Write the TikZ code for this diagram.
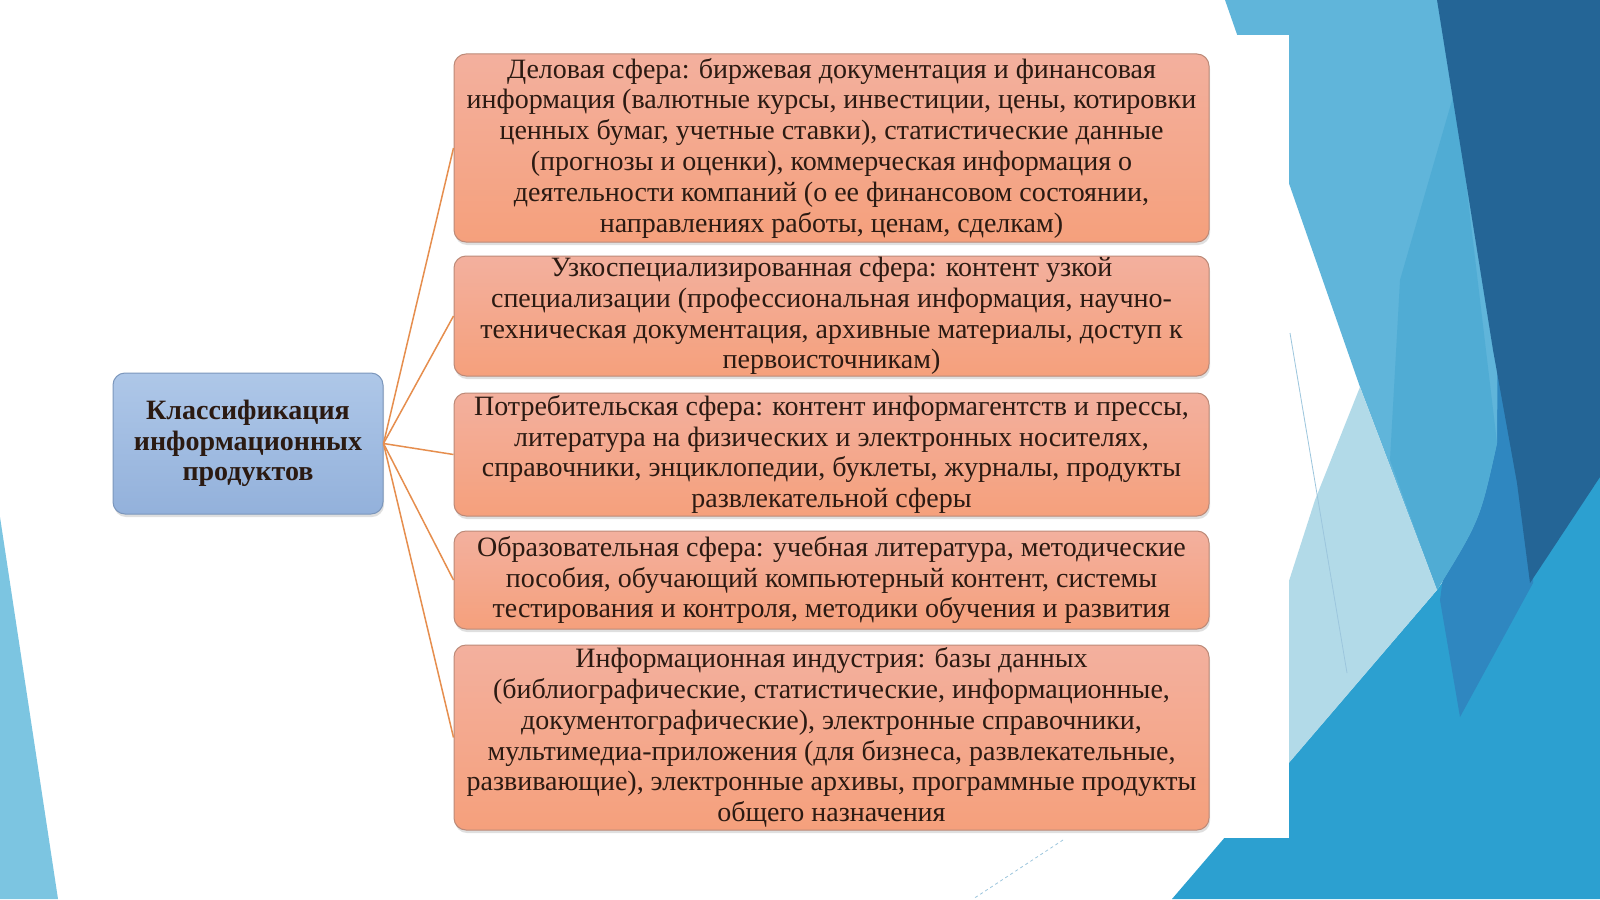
\documentclass[tikz,border=0pt]{standalone}
\usepackage{fontspec}
\setmainfont{Liberation Serif}
\usepackage{tikz}
\usetikzlibrary{shadows}
\definecolor{colorLink}{HTML}{E68E4E}
\definecolor{colorText}{HTML}{2B1A12}
\definecolor{colorBoxTop}{HTML}{F3B09E}
\definecolor{colorBoxBottom}{HTML}{F5A07C}
\definecolor{colorBoxLine}{HTML}{BC8A78}
\definecolor{colorRootTop}{HTML}{AEC7E8}
\definecolor{colorRootBottom}{HTML}{93B1DB}
\definecolor{colorRootLine}{HTML}{7C97BC}
\definecolor{colorBgMid}{HTML}{60B5DA}
\definecolor{colorBgMid2}{HTML}{50ACD4}
\definecolor{colorBgDark}{HTML}{246596}
\definecolor{colorBgStrip}{HTML}{2F87C0}
\definecolor{colorBgPale}{HTML}{B2DAE8}
\definecolor{colorBgLow}{HTML}{2CA0D0}
\definecolor{colorBgLeft}{HTML}{7CC5E1}
\definecolor{colorBgFaint}{HTML}{9CC6DD}
\tikzset{
  areabox/.style={draw=colorBoxLine, line width=1pt, rounded corners=12pt,
    top color=colorBoxTop, bottom color=colorBoxBottom, inner sep=0pt,
    minimum width=755pt, align=center,
    drop shadow={shadow xshift=1pt, shadow yshift=-3pt, opacity=0.25}},
  rootbox/.style={draw=colorRootLine, line width=1pt, rounded corners=12pt,
    top color=colorRootTop, bottom color=colorRootBottom, inner sep=0pt,
    minimum width=270pt, minimum height=141pt, align=center,
    font=\fontsize{28}{30.5}\selectfont\bfseries,
    drop shadow={shadow xshift=1pt, shadow yshift=-3pt, opacity=0.25}},
  link/.style={colorLink, line width=1.5pt}
}
\begin{document}
\begin{tikzpicture}[x=1pt, y=-1pt, every node/.style={text=colorText, font=\fontsize{28}{30.8}\selectfont}]
\useasboundingbox (0,0) rectangle (1600,899);
% background of the slide
\fill[white] (0,0) rectangle (1600,899);
\fill[colorBgLeft] (0,517) -- (58,899) -- (0,899) -- cycle;
\fill[colorBgLow] (1172,899) -- (1437,590) -- (1500,500) -- (1600,400) -- (1600,899) -- cycle;
\fill[colorBgStrip] (1480,300) -- (1545,300) -- (1533,583) -- (1460,717) -- (1440,600) -- cycle;
\fill[colorBgMid] (1225,0) -- (1500,0) -- (1497,443) .. controls (1480,520) .. (1437,590) -- (1360,387) -- cycle;
\fill[colorBgMid2] (1455,90) -- (1497,443) .. controls (1480,520) .. (1437,590) -- (1390,460) -- (1400,280) -- cycle;
\fill[colorBgPale] (1360,387) -- (1437,590) -- (1270,785) -- (1270,640) -- (1315,500) -- cycle;
\fill[colorBgDark] (1437,0) -- (1600,0) -- (1600,477) -- (1530,583) -- (1517,483) -- (1493,350) -- cycle;
\draw[colorBgFaint, line width=0.8pt] (1290,333) -- (1347,673);
\draw[colorBgFaint, line width=0.8pt, dashed] (1063,840) -- (973,899);
\fill[white] (100,35) rectangle (1289,838);

% classification tree
\node[rootbox] (root) at (248,443.5) {Классификация\\информационных\\продуктов};
\node[areabox, minimum height=188pt] (s1) at (831.5,148) {Деловая сфера: биржевая документация и финансовая\\информация (валютные курсы, инвестиции, цены, котировки\\ценных бумаг, учетные ставки), статистические данные\\(прогнозы и оценки), коммерческая информация о\\деятельности компаний (о ее финансовом состоянии,\\направлениях работы, ценам, сделкам)};
\node[areabox, minimum height=120pt] (s2) at (831.5,316) {Узкоспециализированная сфера: контент узкой\\специализации (профессиональная информация, научно-\\техническая документация, архивные материалы, доступ к\\первоисточникам)};
\node[areabox, minimum height=123pt] (s3) at (831.5,454.5) {Потребительская сфера: контент информагентств и прессы,\\литература на физических и электронных носителях,\\справочники, энциклопедии, буклеты, журналы, продукты\\развлекательной сферы};
\node[areabox, minimum height=98pt] (s4) at (831.5,580) {Образовательная сфера: учебная литература, методические\\пособия, обучающий компьютерный контент, системы\\тестирования и контроля, методики обучения и развития};
\node[areabox, minimum height=185pt] (s5) at (831.5,737.5) {Информационная индустрия: базы данных\\(библиографические, статистические, информационные,\\документографические), электронные справочники,\\мультимедиа-приложения (для бизнеса, развлекательные,\\развивающие), электронные архивы, программные продукты\\общего назначения};
\foreach \s in {s1,s2,s3,s4,s5}
  \draw[link] (root.east) -- (\s.west);
\end{tikzpicture}
\end{document}
